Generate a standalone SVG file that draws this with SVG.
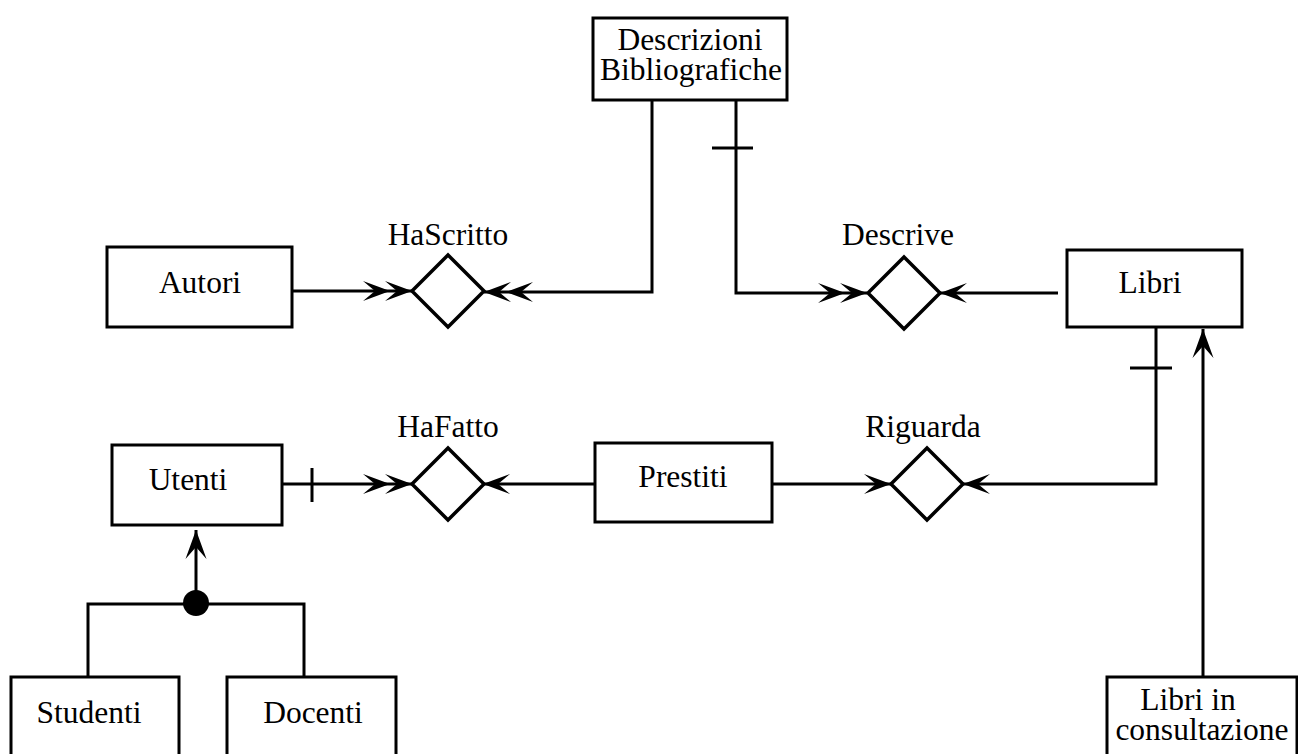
<svg xmlns="http://www.w3.org/2000/svg" width="1298" height="754" viewBox="0 0 1298 754">
  <style>
    .box { fill: #fff; stroke: #000; stroke-width: 3; }
    .rel { fill: #fff; stroke: #000; stroke-width: 3.5; }
    .lbl { font-family: "Liberation Serif", "Times New Roman", serif; font-size: 31.5px; fill: #000; text-anchor: middle; }
    .wire { fill: none; stroke: #000; stroke-width: 3; }
  </style>
  <defs>
    <!-- one barbed head, tip on the end point -->
    <marker id="one" markerUnits="userSpaceOnUse" viewBox="-60 -15 70 30" markerWidth="70" markerHeight="30" refX="0" refY="0" orient="auto" overflow="visible">
      <path d="M0,0 L-27,-10 L-15,0 L-27,10 Z" fill="#000"/>
    </marker>
    <!-- two barbed heads in a row (many side) -->
    <marker id="two" markerUnits="userSpaceOnUse" viewBox="-60 -15 70 30" markerWidth="70" markerHeight="30" refX="0" refY="0" orient="auto" overflow="visible">
      <path d="M0,0 L-27,-10 L-15,0 L-27,10 Z" fill="#000"/>
      <path d="M-22,0 L-49,-10 L-37,0 L-49,10 Z" fill="#000"/>
    </marker>
    <marker id="up" markerUnits="userSpaceOnUse" viewBox="-60 -15 70 30" markerWidth="70" markerHeight="30" refX="0" refY="0" orient="auto" overflow="visible">
      <path d="M0,0 L-29,-10.5 L-17,0 L-29,10.5 Z" fill="#000"/>
    </marker>
  </defs>

  <g id="connectors">
    <path class="wire" d="M293,291 L412,291" marker-end="url(#two)"/>
    <path class="wire" d="M652,100 L652,292 L484,292" marker-end="url(#two)"/>
    <path class="wire" d="M736,100 L736,293 L867,293" marker-end="url(#two)"/>
    <path class="wire" d="M712,148 L753,148"/>
    <path class="wire" d="M1058,293 L940,293" marker-end="url(#one)"/>
    <path class="wire" d="M1156,327 L1156,484 L963,484" marker-end="url(#one)"/>
    <path class="wire" d="M1130,368 L1172,368"/>
    <path class="wire" d="M772,484 L891,484" marker-end="url(#one)"/>
    <path class="wire" d="M595,484 L483,484" marker-end="url(#one)"/>
    <path class="wire" d="M282,484 L412,484" marker-end="url(#two)"/>
    <path class="wire" d="M312,468 L312,502"/>
    <path class="wire" d="M196,603 L196,530" marker-end="url(#up)"/>
    <path class="wire" d="M88,677 L88,604 L304,604 L304,677"/>
    <circle cx="196" cy="603" r="13" fill="#000"/>
    <path class="wire" d="M1203,677 L1203,329" marker-end="url(#up)"/>
  </g>

  <g id="descrizioni">
    <rect class="box" x="593" y="18" width="194" height="82"/>
    <text class="lbl" x="690" y="50">Descrizioni</text>
    <text class="lbl" x="691" y="80">Bibliografiche</text>
  </g>
  <g id="autori">
    <rect class="box" x="107" y="247" width="185" height="80"/>
    <text class="lbl" x="200" y="293">Autori</text>
  </g>
  <g id="libri">
    <rect class="box" x="1067" y="250" width="175" height="77"/>
    <text class="lbl" x="1150" y="293">Libri</text>
  </g>
  <g id="utenti">
    <rect class="box" x="112" y="445" width="170" height="80"/>
    <text class="lbl" x="188" y="490">Utenti</text>
  </g>
  <g id="prestiti">
    <rect class="box" x="595" y="443" width="177" height="79"/>
    <text class="lbl" x="683" y="487">Prestiti</text>
  </g>
  <g id="studenti">
    <rect class="box" x="11" y="677" width="168" height="90"/>
    <text class="lbl" x="89" y="723">Studenti</text>
  </g>
  <g id="docenti">
    <rect class="box" x="227" y="677" width="169" height="90"/>
    <text class="lbl" x="313" y="723">Docenti</text>
  </g>
  <g id="consultazione">
    <rect class="box" x="1107" y="677" width="190" height="90"/>
    <text class="lbl" x="1188" y="710">Libri in</text>
    <text class="lbl" x="1202" y="740">consultazione</text>
  </g>

  <g id="hascritto">
    <polygon class="rel" points="448,255 484,291 448,327 412,291"/>
    <text class="lbl" x="448" y="245">HaScritto</text>
  </g>
  <g id="descrive">
    <polygon class="rel" points="904,257 940,293 904,329 868,293"/>
    <text class="lbl" x="898" y="245">Descrive</text>
  </g>
  <g id="hafatto">
    <polygon class="rel" points="448,448 484,484 448,520 412,484"/>
    <text class="lbl" x="448" y="437">HaFatto</text>
  </g>
  <g id="riguarda">
    <polygon class="rel" points="927,448 963,484 927,520 891,484"/>
    <text class="lbl" x="923" y="437">Riguarda</text>
  </g>
</svg>
